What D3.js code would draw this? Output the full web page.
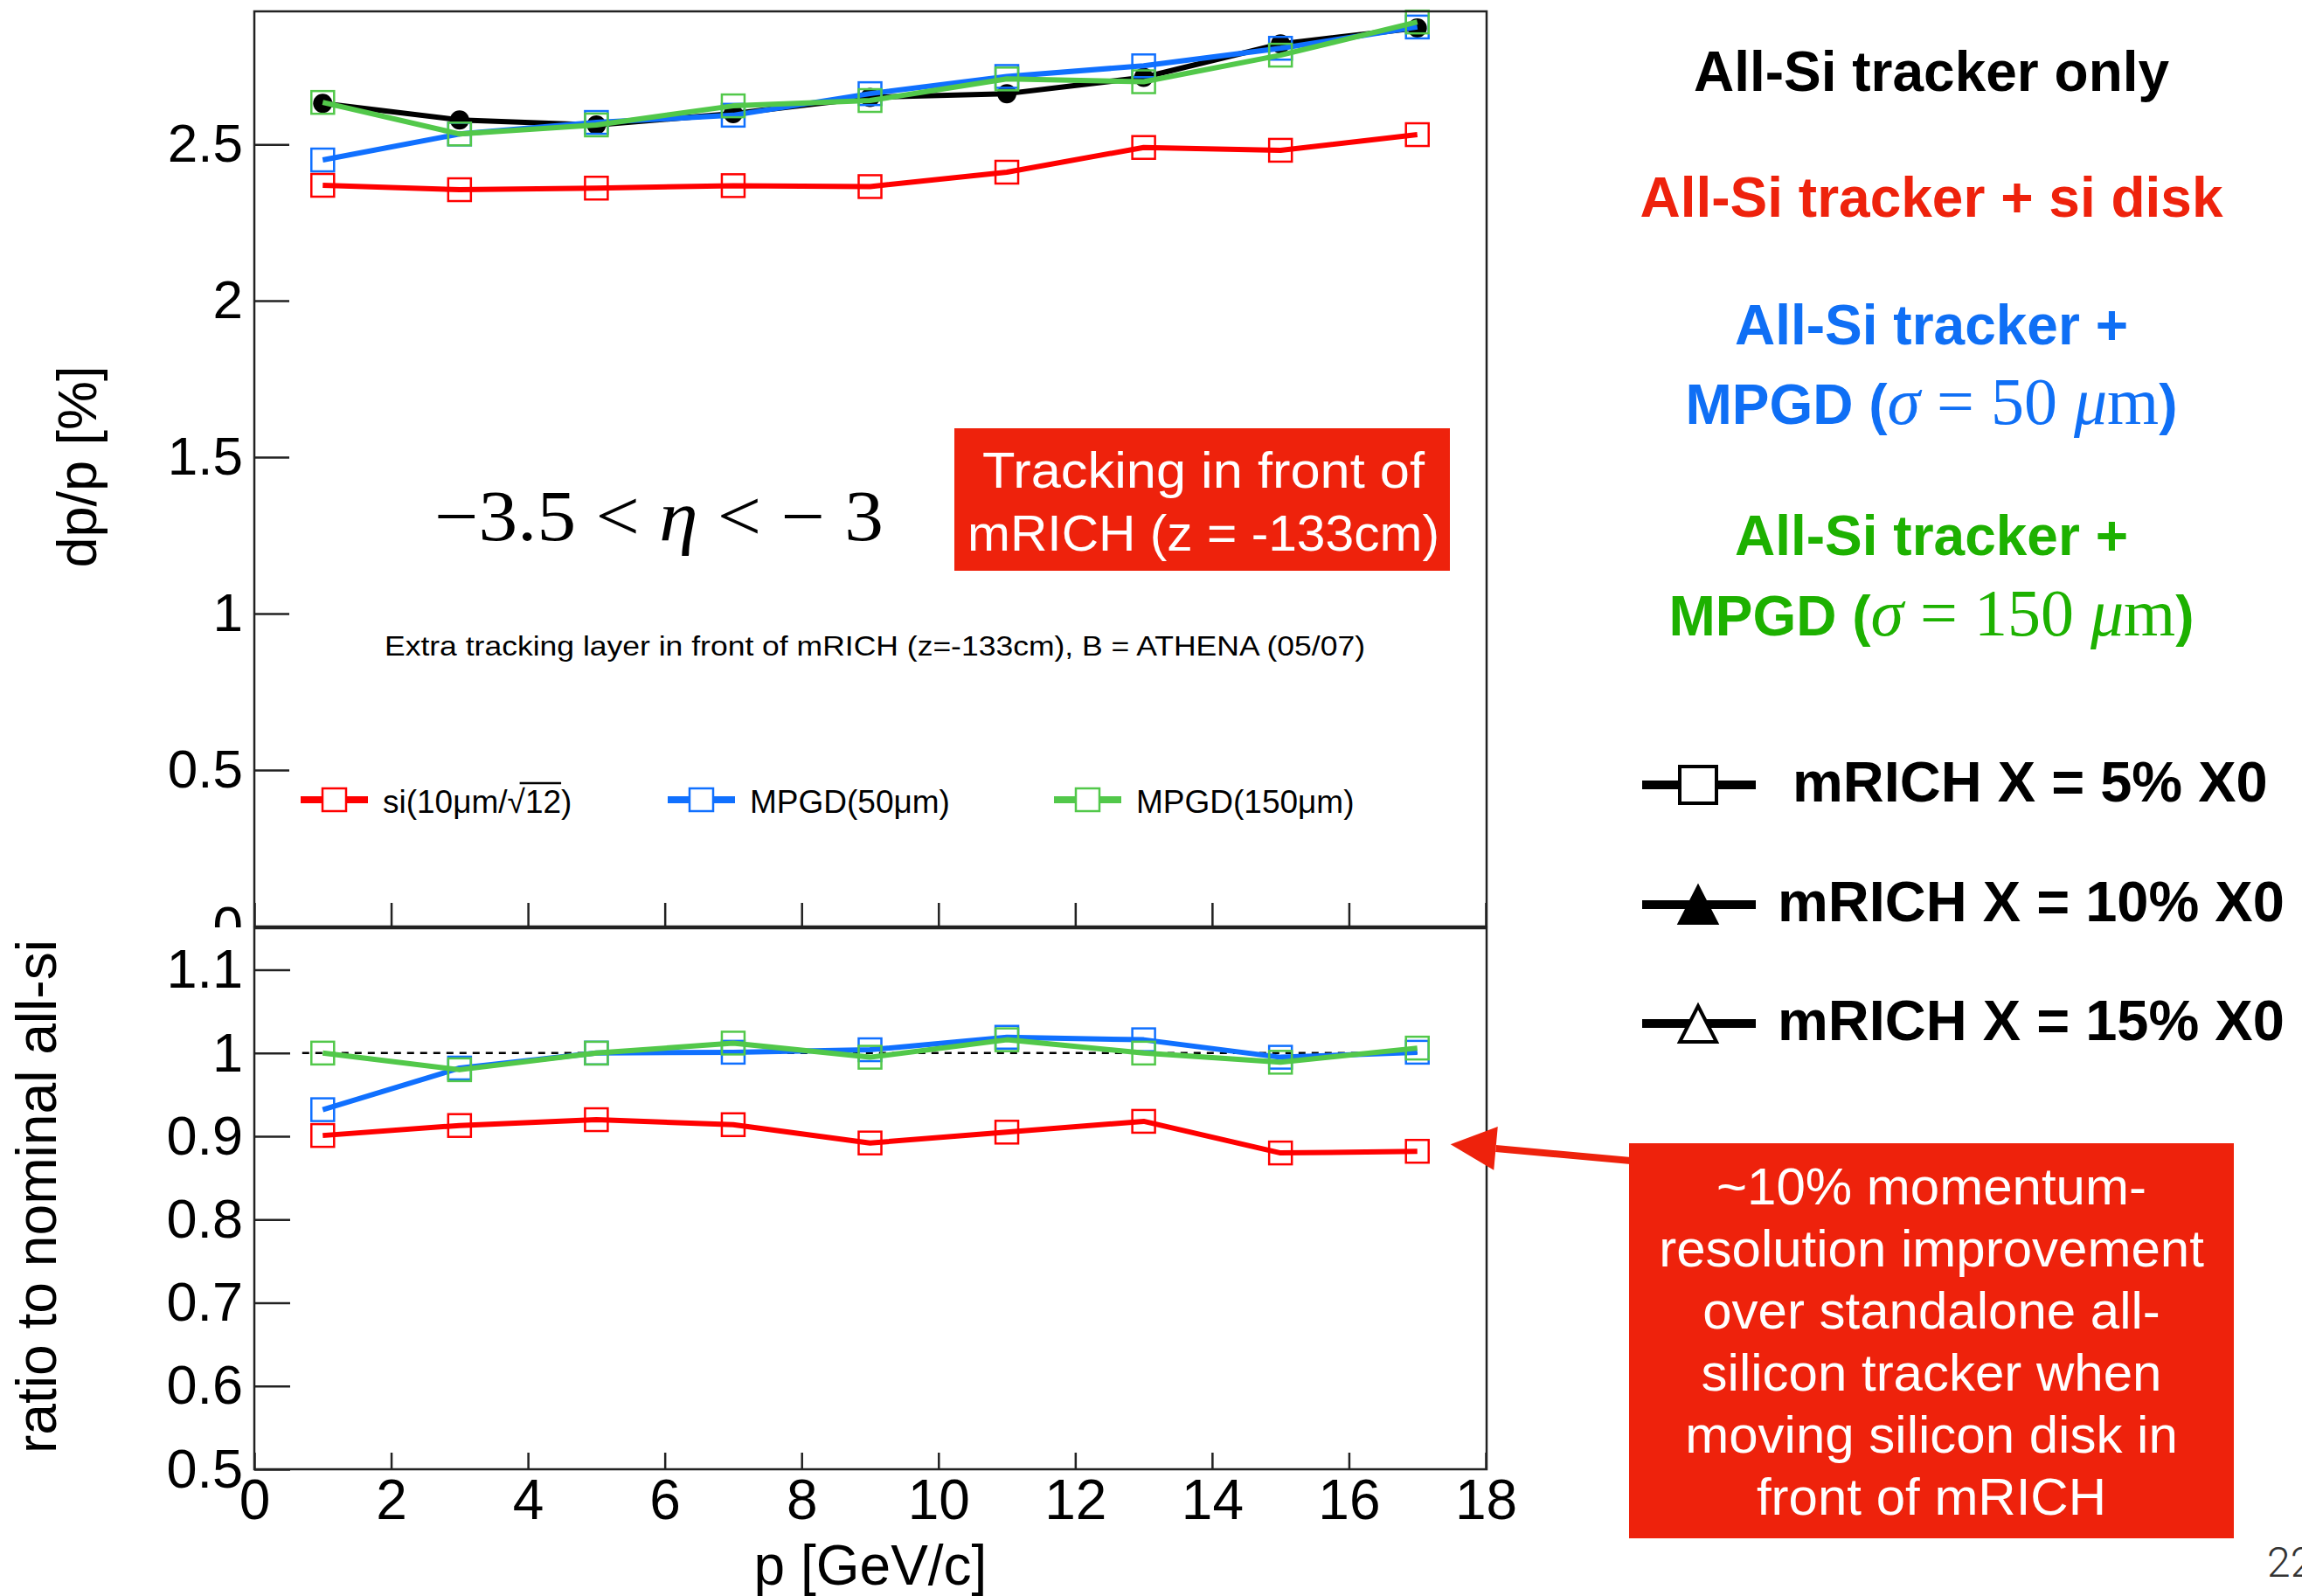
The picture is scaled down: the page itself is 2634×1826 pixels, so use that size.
<!DOCTYPE html>
<meta charset="utf-8">
<style>
body { margin: 0; background: #fff; }
svg { display: block; }
.axis line { stroke: #222; stroke-width: 2.5; }
.axis path { display: none; }
.axis text { fill: #000; }
.frame { fill: none; stroke: #222; stroke-width: 2.5; }
</style>
<body>
<div id="plotHere"></div>
<script src="https://cdn.jsdelivr.net/npm/d3@7/dist/d3.min.js"></script>
<script>
//------------------------1. DATA------------------------//
const pValues = [1, 3, 5, 7, 9, 11, 13, 15, 17];

// dp/p [%] (upper pad)
const dpAllSi    = [2.631, 2.578, 2.562, 2.598, 2.650, 2.662, 2.714, 2.821, 2.872];
const dpSiDisk   = [2.369, 2.355, 2.360, 2.368, 2.365, 2.411, 2.490, 2.481, 2.531];
const dpMpgd50   = [2.450, 2.533, 2.570, 2.593, 2.662, 2.717, 2.751, 2.807, 2.875];
const dpMpgd150  = [2.634, 2.533, 2.562, 2.623, 2.640, 2.709, 2.700, 2.785, 2.891];

// ratio to nominal all-si (lower pad)
const ratioSiDisk  = [0.901, 0.913, 0.920, 0.914, 0.892, 0.905, 0.918, 0.880, 0.882];
const ratioMpgd50  = [0.932, 0.982, 1.000, 1.001, 1.004, 1.019, 1.016, 0.995, 1.001];
const ratioMpgd150 = [1.000, 0.980, 1.000, 1.012, 0.995, 1.016, 1.000, 0.989, 1.006];

const xTicks     = [0, 2, 4, 6, 8, 10, 12, 14, 16, 18];
const upperTicks = [0, 0.5, 1, 1.5, 2, 2.5];
const lowerTicks = [0.5, 0.6, 0.7, 0.8, 0.9, 1, 1.1];

const legendLabels = ["si(10\u03bcm/\u221a", "MPGD(50\u03bcm)", "MPGD(150\u03bcm)"];
const mrichLabels  = ["mRICH X = 5% X0", "mRICH X = 10% X0", "mRICH X = 15% X0"];
const noteLines = ["~10% momentum-", "resolution improvement", "over standalone all-",
                   "silicon tracker when", "moving silicon disk in", "front of mRICH"];

//------------------------2. SETUP------------------------//
const W = 2634, H = 1826;
const sans = '"Liberation Sans", Arial, Helvetica, sans-serif';
const serif = '"Liberation Serif", "Times New Roman", serif';
const cRed = "#ff0000", cBlue = "#1070ff", cGreen = "#52c84a";

var svg = d3.select("#plotHere").append("svg")
    .attr("width", W).attr("height", H);

var x = d3.scaleLinear().domain([0, 18]).range([291, 1700]);
var yUp = d3.scaleLinear().domain([0, 2.925]).range([1060, 13]);
var yLo = d3.scaleLinear().domain([0.5, 1.15]).range([1681, 1062]);

function drawSeries(g, yScale, vals, color, marker) {
  var line = d3.line()
      .x(function(d, i) { return x(pValues[i]); })
      .y(function(d) { return yScale(d); });
  g.append("path").datum(vals)
      .attr("d", line)
      .attr("fill", "none")
      .attr("stroke", color)
      .attr("stroke-width", 6)
      .attr("stroke-linejoin", "round");
  if (marker === "circle") {
    g.selectAll(null).data(vals).join("circle")
        .attr("cx", function(d, i) { return x(pValues[i]); })
        .attr("cy", function(d) { return yScale(d); })
        .attr("r", 11)
        .attr("fill", color);
  } else {
    g.selectAll(null).data(vals).join("rect")
        .attr("x", function(d, i) { return x(pValues[i]) - 13; })
        .attr("y", function(d) { return yScale(d) - 13; })
        .attr("width", 26).attr("height", 26)
        .attr("fill", "none")
        .attr("stroke", color)
        .attr("stroke-width", 2.5);
  }
}

//------------------------3. UPPER PAD------------------------//
var up = svg.append("g");

var gyUp = up.append("g").attr("class", "axis")
    .attr("transform", "translate(291,0)")
    .call(d3.axisLeft(yUp).tickValues(upperTicks).tickSize(-40).tickPadding(13)
          .tickFormat(function(d) { return String(d); }));
gyUp.attr("font-size", 62).attr("font-family", sans);

up.append("g").attr("class", "axis")
    .attr("transform", "translate(0,1060)")
    .call(d3.axisBottom(x).tickValues(xTicks).tickSize(-27).tickFormat(""));

drawSeries(up, yUp, dpAllSi, "#000", "circle");
drawSeries(up, yUp, dpSiDisk, cRed, "square");
drawSeries(up, yUp, dpMpgd50, cBlue, "square");
drawSeries(up, yUp, dpMpgd150, cGreen, "square");

up.append("rect").attr("class", "frame")
    .attr("x", 291).attr("y", 13).attr("width", 1410).attr("height", 1047);

up.append("text")
    .attr("transform", "translate(110,534) rotate(-90)")
    .attr("text-anchor", "middle")
    .style("font", "63px " + sans)
    .text("dp/p [%]");

// eta range
var eta = up.append("text")
    .attr("x", 497).attr("y", 618)
    .attr("textLength", 514).attr("lengthAdjust", "spacingAndGlyphs")
    .style("font", "82px " + serif);
eta.append("tspan").text("\u22123.5 < ");
eta.append("tspan").style("font-style", "italic").text("\u03b7");
eta.append("tspan").text(" < \u2212 3");

// red box
up.append("rect").attr("x", 1092).attr("y", 490).attr("width", 567).attr("height", 163)
    .attr("fill", "#ee220c");
up.append("text").attr("x", 1124).attr("y", 558)
    .attr("textLength", 506).attr("lengthAdjust", "spacingAndGlyphs")
    .style("font", "58px " + sans).attr("fill", "#fff")
    .text("Tracking in front of");
up.append("text").attr("x", 1107).attr("y", 630)
    .attr("textLength", 540).attr("lengthAdjust", "spacingAndGlyphs")
    .style("font", "58px " + sans).attr("fill", "#fff")
    .text("mRICH (z = -133cm)");

up.append("text").attr("x", 440).attr("y", 750)
    .attr("textLength", 1122).attr("lengthAdjust", "spacingAndGlyphs")
    .style("font", "32px " + sans)
    .text("Extra tracking layer in front of mRICH (z=-133cm), B = ATHENA (05/07)");

// plot legend
var legColors = [cRed, cBlue, cGreen];
var legX = [344, 764, 1206];
legendLabels.forEach(function(lab, i) {
  var lx = legX[i];
  up.append("line").attr("x1", lx).attr("x2", lx + 77).attr("y1", 915).attr("y2", 915)
      .attr("stroke", legColors[i]).attr("stroke-width", 8);
  up.append("rect").attr("x", lx + 25).attr("y", 902).attr("width", 27).attr("height", 26)
      .attr("fill", "#fff").attr("stroke", legColors[i]).attr("stroke-width", 2.5);
  var t = up.append("text").attr("x", lx + 94).attr("y", 930)
      .style("font", "37px " + sans).text(lab);
  if (i === 0) {
    var sq = t.append("tspan").text("12");
    t.append("tspan").text(")");
    var node = t.node();
    var n0 = lab.length;
    var sx = node.getStartPositionOfChar(n0 - 1).x + 14;
    var ex = node.getEndPositionOfChar(n0 + 1).x;
    up.append("line").attr("x1", sx).attr("x2", ex).attr("y1", 896).attr("y2", 896)
        .attr("stroke", "#000").attr("stroke-width", 2.5);
  }
});

//------------------------4. LOWER PAD------------------------//
svg.append("rect").attr("x", 0).attr("y", 1061).attr("width", 1760).attr("height", 765)
    .attr("fill", "#fff");

var lo = svg.append("g");

var gyLo = lo.append("g").attr("class", "axis")
    .attr("transform", "translate(291,0)")
    .call(d3.axisLeft(yLo).tickValues(lowerTicks).tickSize(-41).tickPadding(13)
          .tickFormat(function(d) { return String(d); }));
gyLo.attr("font-size", 63).attr("font-family", sans);

var gxLo = lo.append("g").attr("class", "axis")
    .attr("transform", "translate(0,1681)")
    .call(d3.axisBottom(x).tickValues(xTicks).tickSize(-19).tickPadding(12));
gxLo.attr("font-size", 64).attr("font-family", sans);

lo.append("line")
    .attr("x1", x(0.7)).attr("x2", x(17))
    .attr("y1", yLo(1)).attr("y2", yLo(1))
    .attr("stroke", "#000").attr("stroke-width", 2.5)
    .attr("stroke-dasharray", "8,7");

drawSeries(lo, yLo, ratioSiDisk, cRed, "square");
drawSeries(lo, yLo, ratioMpgd50, cBlue, "square");
drawSeries(lo, yLo, ratioMpgd150, cGreen, "square");

lo.append("rect").attr("class", "frame")
    .attr("x", 291).attr("y", 1062).attr("width", 1410).attr("height", 619);

lo.append("text")
    .attr("transform", "translate(64,1369) rotate(-90)")
    .attr("text-anchor", "middle")
    .attr("textLength", 588).attr("lengthAdjust", "spacingAndGlyphs")
    .style("font", "64px " + sans)
    .text("ratio to nominal all-si");

lo.append("text")
    .attr("x", 996).attr("y", 1813)
    .attr("text-anchor", "middle")
    .style("font", "64px " + sans)
    .text("p [GeV/c]");

//------------------------5. SLIDE ANNOTATIONS------------------------//
var ann = svg.append("g");
var cx = 2210;

function richLine(yb, color, parts) {
  var t = ann.append("text").attr("x", cx).attr("y", yb)
      .attr("text-anchor", "middle").attr("fill", color);
  parts.forEach(function(p) {
    t.append("tspan")
        .style("font-family", p.f || sans)
        .style("font-size", (p.s || 64) + "px")
        .style("font-weight", p.w || "bold")
        .style("font-style", p.i ? "italic" : "normal")
        .text(p.t);
  });
}

richLine(104, "#000", [{t: "All-Si tracker only"}]);
richLine(248, "#ee220c", [{t: "All-Si tracker + si disk"}]);
richLine(394, "#0f6ff5", [{t: "All-Si tracker +"}]);
richLine(485, "#0f6ff5", [{t: "MPGD ("},
  {t: "\u03c3", f: serif, s: 76, w: "normal", i: true},
  {t: " = 50 ", f: serif, s: 76, w: "normal"},
  {t: "\u03bc", f: serif, s: 76, w: "normal", i: true},
  {t: "m", f: serif, s: 76, w: "normal"},
  {t: ")"}]);
richLine(635, "#1db100", [{t: "All-Si tracker +"}]);
richLine(727, "#1db100", [{t: "MPGD ("},
  {t: "\u03c3", f: serif, s: 76, w: "normal", i: true},
  {t: " = 150 ", f: serif, s: 76, w: "normal"},
  {t: "\u03bc", f: serif, s: 76, w: "normal", i: true},
  {t: "m", f: serif, s: 76, w: "normal"},
  {t: ")"}]);

// mRICH material legend
var rowY = [898, 1035, 1171];
var rowTextX = [2051, 2034, 2034];
mrichLabels.forEach(function(lab, i) {
  var yc = rowY[i];
  ann.append("line").attr("x1", 1879).attr("x2", 2009).attr("y1", yc).attr("y2", yc)
      .attr("stroke", "#000").attr("stroke-width", 10);
  if (i === 0) {
    ann.append("rect").attr("x", 1922).attr("y", yc - 21).attr("width", 42).attr("height", 42)
        .attr("fill", "#fff").attr("stroke", "#000").attr("stroke-width", 4);
  } else {
    ann.append("path")
        .attr("d", "M1943," + (yc - 20) + "L1964," + (yc + 21) + "L1922," + (yc + 21) + "Z")
        .attr("fill", i === 1 ? "#000" : "#fff")
        .attr("stroke", "#000").attr("stroke-width", 4);
  }
  ann.append("text").attr("x", rowTextX[i]).attr("y", yc + 19)
      .style("font", "bold 65px " + sans)
      .text(lab);
});

// arrow from the note box to the red ratio curve
var tail = [1866, 1328], tip = [x(17) + 38, yLo(ratioSiDisk[8]) - 8];
var dx = tip[0] - tail[0], dy = tip[1] - tail[1], len = Math.sqrt(dx * dx + dy * dy);
var ux = dx / len, uy = dy / len;
var bx = tip[0] - ux * 52, by = tip[1] - uy * 52;
ann.append("line").attr("x1", tail[0]).attr("y1", tail[1]).attr("x2", bx).attr("y2", by)
    .attr("stroke", "#ee220c").attr("stroke-width", 8);
ann.append("path")
    .attr("d", "M" + tip[0] + "," + tip[1] +
               "L" + (bx - uy * 25) + "," + (by + ux * 25) +
               "L" + (bx + uy * 25) + "," + (by - ux * 25) + "Z")
    .attr("fill", "#ee220c");

// note box
ann.append("rect").attr("x", 1864).attr("y", 1308).attr("width", 692).attr("height", 452)
    .attr("fill", "#ee220c");
noteLines.forEach(function(s, i) {
  ann.append("text").attr("x", 2210).attr("y", 1378 + i * 71)
      .attr("text-anchor", "middle").attr("fill", "#fff")
      .style("font", "60px " + sans)
      .text(s);
});

// slide number
ann.append("text").attr("x", 2594).attr("y", 1804)
    .attr("fill", "#333")
    .style("font", "300 48px Roboto, " + sans)
    .text("22");
</script>
</body>
